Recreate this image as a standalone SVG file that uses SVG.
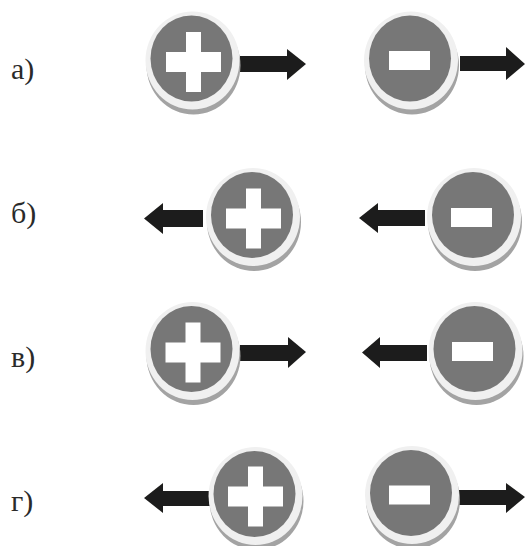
<svg xmlns="http://www.w3.org/2000/svg" width="527" height="546" viewBox="0 0 527 546">
<style>
.sh{fill:#a3a3a3}
.ring{fill:#f0f0f0}
.disc{fill:#777}
.sign{fill:#fff}
.arrow{fill:#1e1e1c}
.label{font-family:"Liberation Serif",serif;font-size:30px;fill:#2a2a2a}
</style>
<defs>
<filter id="soft" x="-10%" y="-10%" width="120%" height="120%"><feGaussianBlur stdDeviation="0.6"/></filter>
<g id="disc">
<ellipse class="sh" cx="2" cy="7" rx="47" ry="49"/>
<ellipse class="ring" cx="1" cy="2" rx="47" ry="49"/>
<ellipse class="disc" cx="0" cy="0" rx="41" ry="43"/>
</g>
<path id="plus" class="sign" d="M-7.5-30H7.5V-10H27.5V10H7.5V30H-7.5V10H-27.5V-10H-7.5Z"/>
<rect id="minus" class="sign" x="-20.5" y="-9.500" width="41" height="19"/>
</defs>
<rect width="527" height="546" fill="#fff"/>
<g filter="url(#soft)">
<g id="connectors">
<path class="arrow" d="M240 56H287V49L306 64 287 80V72H240Z"/>
<path class="arrow" d="M460 56H506V47L525 64 506 80V71H460Z"/>
<path class="arrow" d="M203 210H163V203L144 218.500 163 234V227H203Z"/>
<path class="arrow" d="M425 210H378V203L359 218 378 233V226H425Z"/>
<path class="arrow" d="M240 345H288V337L306 352 288 368V361H240Z"/>
<path class="arrow" d="M427 345H380V337L362 352.500 380 368V361H427Z"/>
<path class="arrow" d="M213 491H163V483L144 498 163 513V506H213Z"/>
<path class="arrow" d="M455 490H506V483L525 497 506 513V505H455Z"/>
</g>
<g id="node-a-plus"><use href="#disc" x="191.500" y="58.500"/><use href="#plus" x="193.500" y="62"/></g>
<g id="node-a-minus"><use href="#disc" x="410" y="58.500"/><use href="#minus" x="409.500" y="60.500"/></g>
<g id="node-b-plus"><use href="#disc" x="252" y="215"/><use href="#plus" x="253.500" y="218.500"/></g>
<g id="node-b-minus"><use href="#disc" x="473" y="215"/><use href="#minus" x="471.500" y="217.500"/></g>
<g id="node-c-plus"><use href="#disc" x="191.500" y="349"/><use href="#plus" x="193" y="352.500"/></g>
<g id="node-c-minus"><use href="#disc" x="474.500" y="349"/><use href="#minus" x="472.500" y="351.500"/></g>
<g id="node-d-plus"><use href="#disc" x="254.500" y="494"/><use href="#plus" x="255.500" y="496.500"/></g>
<g id="node-d-minus"><use href="#disc" x="411" y="493"/><use href="#minus" x="409.500" y="495"/></g>
</g>
<text class="label" x="11" y="79">а)</text>
<text class="label" x="11" y="223">б)</text>
<text class="label" x="11" y="367">в)</text>
<text class="label" x="11" y="511">г)</text>
</svg>
